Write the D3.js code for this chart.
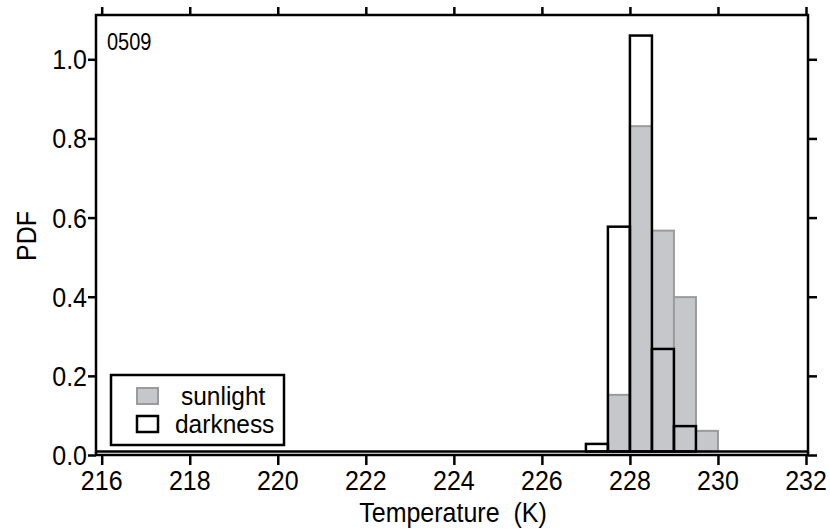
<!DOCTYPE html>
<html>
<head>
<meta charset="utf-8">
<script src="https://cdn.jsdelivr.net/npm/d3@7"></script>
<style>
  html, body { margin: 0; padding: 0; background: #fff; }
  svg { display: block; }
  text { font-family: "Liberation Sans", Arial, Helvetica, sans-serif; fill: #000; }
</style>
</head>
<body>
<svg id="chart" width="830" height="531"></svg>
<script>
// Histogram bins (lower edge in K, bin width 0.5 K) and probability densities
const binWidth = 0.5;
const sunlightBins = [227.5, 228.0, 228.5, 229.0, 229.5];
const sunlightPdf  = [0.152, 0.831, 0.567, 0.399, 0.061];
const darknessBins = [227.0, 227.5, 228.0, 228.5, 229.0];
const darknessPdf  = [0.028, 0.577, 1.060, 0.268, 0.073];

const xTicks = [216, 218, 220, 222, 224, 226, 228, 230, 232];
const yTicks = [0.0, 0.2, 0.4, 0.6, 0.8, 1.0];
const seriesNames = ["sunlight", "darkness"];
const panelLabel = "0509";

const svg = d3.select("#chart");
const FS = 25, SY = 1.1;   // font size and vertical glyph stretch
const frame = { left: 96, right: 808, top: 15, bottom: 451.5 };
const axisY = 455;

const x = d3.scaleLinear().domain([216, 232]).range([101.7, 806]);
const y = d3.scaleLinear().domain([0, 1]).range([axisY, 59.3]);

// places a text element at (px, py) with the taller glyph shape
const at = (px, py, sy = SY) => `translate(${px},${py}) scale(1,${sy})`;

// bars: sunlight (filled grey) below, darkness (outline) above
const barsG = svg.append("g");
barsG.selectAll("rect.sun")
  .data(sunlightBins.map((b, i) => ({ b, v: sunlightPdf[i] })))
  .join("rect")
  .attr("class", "sun")
  .attr("x", d => x(d.b))
  .attr("width", d => x(d.b + binWidth) - x(d.b))
  .attr("y", d => y(d.v))
  .attr("height", d => frame.bottom - y(d.v))
  .attr("fill", "#c5c7cb")
  .attr("stroke", "#9b9b9b")
  .attr("stroke-width", 2);

barsG.selectAll("rect.dark")
  .data(darknessBins.map((b, i) => ({ b, v: darknessPdf[i] })))
  .join("rect")
  .attr("class", "dark")
  .attr("x", d => x(d.b))
  .attr("width", d => x(d.b + binWidth) - x(d.b))
  .attr("y", d => y(d.v))
  .attr("height", d => frame.bottom - y(d.v))
  .attr("fill", "none")
  .attr("stroke", "#000")
  .attr("stroke-width", 2.5);

// frame
svg.append("rect")
  .attr("x", frame.left).attr("y", frame.top)
  .attr("width", frame.right - frame.left)
  .attr("height", frame.bottom - frame.top)
  .attr("fill", "none").attr("stroke", "#000").attr("stroke-width", 2.5);

// x axis baseline just below the frame
svg.append("line")
  .attr("x1", frame.left).attr("x2", frame.right)
  .attr("y1", axisY).attr("y2", axisY)
  .attr("stroke", "#000").attr("stroke-width", 2.5);
svg.append("line")
  .attr("x1", frame.left).attr("x2", frame.left)
  .attr("y1", frame.bottom).attr("y2", axisY + 1)
  .attr("stroke", "#000").attr("stroke-width", 2.5);
svg.append("line")
  .attr("x1", frame.right).attr("x2", frame.right)
  .attr("y1", frame.bottom).attr("y2", axisY + 1)
  .attr("stroke", "#000").attr("stroke-width", 2.5);

function styleTicks(g) {
  g.select(".domain").remove();
  g.selectAll(".tick line").attr("stroke", "#000").attr("stroke-width", 2.5);
  g.selectAll(".tick text").remove();
}

svg.append("g").attr("transform", `translate(0,${axisY + 1})`)
  .call(d3.axisBottom(x).tickValues(xTicks).tickSize(9).tickFormat(""))
  .call(styleTicks);
svg.append("g").attr("transform", `translate(0,${frame.top})`)
  .call(d3.axisTop(x).tickValues(xTicks).tickSize(8).tickFormat(""))
  .call(styleTicks);
svg.append("g").attr("transform", `translate(${frame.left},0)`)
  .call(d3.axisLeft(y).tickValues(yTicks).tickSize(8).tickFormat(""))
  .call(styleTicks);
svg.append("g").attr("transform", `translate(${frame.right},0)`)
  .call(d3.axisRight(y).tickValues(yTicks).tickSize(9).tickFormat(""))
  .call(styleTicks);

// tick labels
svg.append("g").selectAll("text")
  .data(xTicks).join("text")
  .attr("text-anchor", "middle")
  .attr("font-size", FS)
  .attr("transform", d => at(x(d), 490))
  .text(d => d);

svg.append("g").selectAll("text")
  .data(yTicks).join("text")
  .attr("text-anchor", "end")
  .attr("font-size", FS)
  .attr("transform", d => at(87, y(d) + 10))
  .text(d3.format(".1f"));

// axis titles
svg.append("text")
  .attr("text-anchor", "middle")
  .attr("font-size", FS)
  .style("white-space", "pre")
  .attr("transform", at(453, 522))
  .text("Temperature  (K)");

svg.append("text")
  .attr("text-anchor", "middle")
  .attr("font-size", FS)
  .attr("transform", "translate(36,236) scale(1.1,1) rotate(-90)")
  .text("PDF");

svg.append("text")
  .attr("font-size", 20)
  .attr("transform", at(107, 50, 1.2))
  .text(panelLabel);

// legend
const lg = svg.append("g");
lg.append("rect")
  .attr("x", 111).attr("y", 375).attr("width", 173).attr("height", 70)
  .attr("fill", "#fff").attr("stroke", "#000").attr("stroke-width", 2.5);
lg.append("rect")
  .attr("x", 137).attr("y", 388).attr("width", 21).attr("height", 16)
  .attr("fill", "#c5c7cb").attr("stroke", "#9b9b9b").attr("stroke-width", 2);
lg.append("rect")
  .attr("x", 137).attr("y", 416).attr("width", 21).attr("height", 16)
  .attr("fill", "none").attr("stroke", "#000").attr("stroke-width", 2.5);
lg.append("text").attr("font-size", 24.5)
  .attr("transform", at(181, 405, 1.05)).text(seriesNames[0]);
lg.append("text").attr("font-size", 24.5)
  .attr("transform", at(175, 432.5, 1.05)).text(seriesNames[1]);
</script>
</body>
</html>
